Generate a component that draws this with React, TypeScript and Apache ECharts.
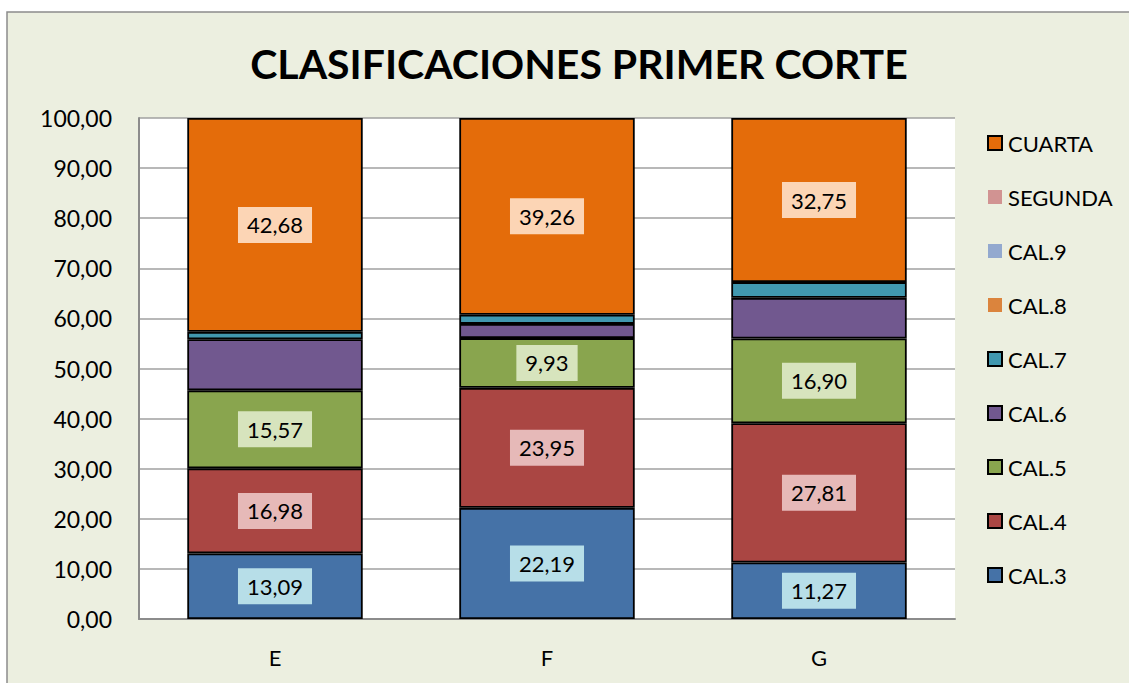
import React, { useEffect, useRef } from "react";
import * as echarts from "echarts";

const categories = ["E", "F", "G"];
const seriesNames = ["CAL.3", "CAL.4", "CAL.5", "CAL.6", "CAL.7", "CAL.8", "CAL.9", "SEGUNDA", "CUARTA"];
const cal3 = [13.09, 22.19, 11.27];
const cal4 = [16.98, 23.95, 27.81];
const cal5 = [15.57, 9.93, 16.9];
const cal6 = [10.19, 2.83, 8.12];
const cal7 = [1.49, 1.84, 3.15];
const cal8 = [0, 0, 0];
const cal9 = [0, 0, 0];
const segunda = [0, 0, 0];
const cuarta = [42.68, 39.26, 32.75];
const yTicks = { min: 0, max: 100, interval: 10 };

const seriesData = [cal3, cal4, cal5, cal6, cal7, cal8, cal9, segunda, cuarta];
const colors = ["#4572A7", "#AA4643", "#89A54E", "#71588F", "#4198AF", "#DB843D", "#93A9CF", "#D19392", "#E46C0A"];
const labelBg: Record<string, string> = {
  "CAL.3": "#B7DEE8",
  "CAL.4": "#E6B9B8",
  "CAL.5": "#D7E4BD",
  CUARTA: "#FCD5B5",
};
const noBorder = ["CAL.8", "CAL.9", "SEGUNDA"];
const FONT = "Lato";
const fmt = (v: number) => v.toFixed(2).replace(".", ",");

export default function App() {
  const ref = useRef<HTMLDivElement>(null);
  useEffect(() => {
    document.body.style.margin = "0";
    const chart = echarts.init(ref.current!, undefined, { renderer: "svg" });
    chart.setOption({
      animation: false,
      backgroundColor: "#ffffff",
      graphic: [
        {
          type: "rect",
          z: -10,
          silent: true,
          shape: { x: 7, y: 12, width: 1130, height: 680 },
          style: { fill: "#ECEFE0", stroke: "#8C8C8C", lineWidth: 1.5 },
        },
        {
          type: "rect",
          z: -5,
          silent: true,
          shape: { x: 139, y: 118, width: 816, height: 501 },
          style: { fill: "#ffffff" },
        },
      ],
      title: {
        text: "CLASIFICACIONES PRIMER CORTE",
        left: 574,
        textAlign: "center",
        top: 38,
        textStyle: { fontFamily: FONT, fontWeight: "bold", fontSize: 41, color: "#000" },
      },
      legend: {
        orient: "vertical",
        left: 982,
        top: 126,
        itemWidth: 14,
        itemHeight: 14,
        itemGap: 30,
        icon: "rect",
        textStyle: { fontFamily: FONT, fontSize: 22, color: "#000", lineHeight: 24, padding: [0, 0, 0, 1] },
        data: seriesNames
          .slice()
          .reverse()
          .map((n) => ({
            name: n,
            itemStyle: noBorder.includes(n) ? { borderWidth: 0 } : { borderColor: "#000", borderWidth: 2 },
          })),
      },
      grid: { left: 139, right: 174, top: 118, bottom: 64, containLabel: false },
      xAxis: {
        type: "category",
        data: categories,
        axisTick: { show: false },
        axisLine: { lineStyle: { color: "#8C8C8C", width: 2 } },
        axisLabel: { fontFamily: FONT, fontSize: 22, color: "#000", margin: 27 },
      },
      yAxis: {
        type: "value",
        min: yTicks.min,
        max: yTicks.max,
        interval: yTicks.interval,
        axisLine: { show: true, lineStyle: { color: "#8C8C8C", width: 2 } },
        axisTick: { show: false },
        splitLine: { lineStyle: { color: "#A0A0A0", width: 1.5 } },
        axisLabel: { fontFamily: FONT, fontSize: 23, color: "#000", margin: 27, formatter: (v: number) => fmt(v) },
      },
      series: seriesNames.map((name, i) => ({
        name,
        type: "bar",
        stack: "total",
        barWidth: "64.5%",
        data: seriesData[i],
        itemStyle: {
          color: colors[i],
          borderColor: "#000",
          borderWidth: noBorder.includes(name) ? 0 : 1.8,
        },
        label: labelBg[name]
          ? {
              show: true,
              position: "inside",
              fontFamily: FONT,
              fontSize: 22,
              color: "#000",
              backgroundColor: labelBg[name],
              padding: [8, 9, 6, 9],
              formatter: (p: any) => fmt(p.value),
            }
          : { show: false },
      })),
    });
    return () => chart.dispose();
  }, []);
  return <div ref={ref} style={{ width: 1129, height: 683 }} />;
}
